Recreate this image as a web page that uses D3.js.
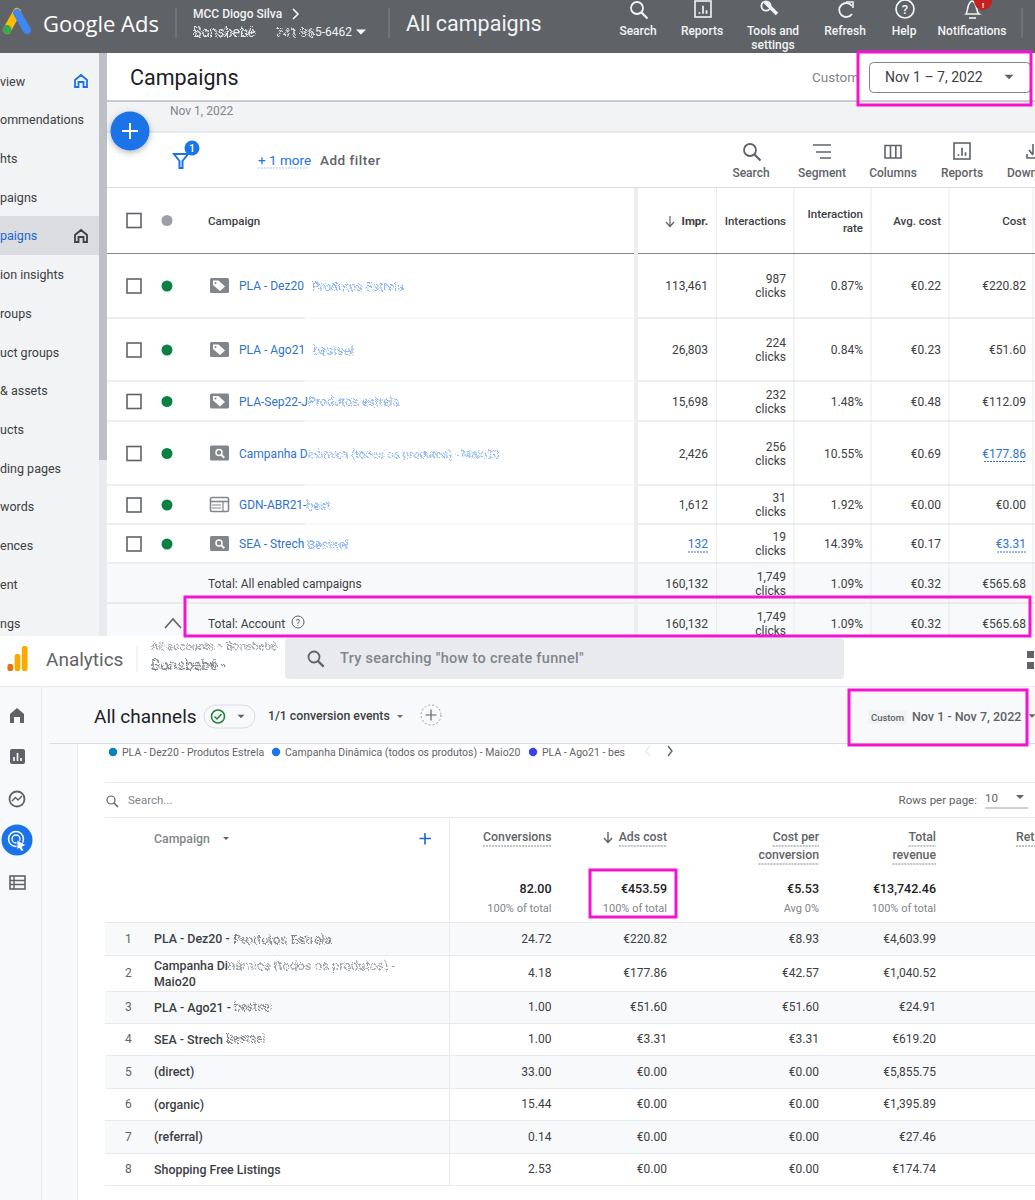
<!DOCTYPE html>
<html>
<head>
<meta charset="utf-8">
<title>Google Ads vs Analytics</title>
<script src="https://cdn.jsdelivr.net/npm/d3@7"></script>
<style>
  html, body { margin: 0; padding: 0; background: #fff; }
  svg { display: block; font-family: Roboto, sans-serif; }
</style>
</head>
<body>
<div id="chart"></div>
<script>
// Google Ads table
const adsCampaigns = ["PLA - Dez20", "PLA - Ago21", "PLA-Sep22-J", "Campanha D", "GDN-ABR21-", "SEA - Strech"];
const adsHidden = ["Produtos Estrela", "bestsel", "Produtos estrela", "inâmica (todos os produtos) - Maio20", "best", "Bestsel"];
const adsIcons = ["tag", "tag", "tag", "search", "display", "search"];
const adsImpr = [113461, 26803, 15698, 2426, 1612, 132];
const adsClicks = [987, 224, 232, 256, 31, 19];
const adsRate = [0.87, 0.84, 1.48, 10.55, 1.92, 14.39];
const adsAvgCost = [0.22, 0.23, 0.48, 0.69, 0.00, 0.17];
const adsCost = [220.82, 51.60, 112.09, 177.86, 0.00, 3.31];
const adsTotalLabels = ["Total: All enabled campaigns", "Total: Account"];
const adsTotals = [160132, 1749, 1.09, 0.32, 565.68];
const adsColumns = ["Impr.", "Interactions", "Interaction|rate", "Avg. cost", "Cost"];
const adsSidebar = ["view", "ommendations", "hts", "paigns", "paigns", "ion insights", "roups", "uct groups", "& assets", "ucts", "ding pages", "words", "ences", "ent", "ngs"];
const adsTools = ["Search", "Segment", "Columns", "Reports", "Down"];
const adsTopNav = ["Search", "Reports", "Tools and|settings", "Refresh", "Help", "Notifications"];

// Analytics table
const gaCampaigns = ["PLA - Dez20 -", "Campanha Di", "PLA - Ago21 -", "SEA - Strech", "(direct)", "(organic)", "(referral)", "Shopping Free Listings"];
const gaHidden = ["Produtos Estrela", "nâmica (todos os produtos) -", "bestsel", "Bestsel", "", "", "", ""];
const gaConversions = [24.72, 4.18, 1.00, 1.00, 33.00, 15.44, 0.14, 2.53];
const gaAdsCost = [220.82, 177.86, 51.60, 3.31, 0, 0, 0, 0];
const gaCostPerConv = [8.93, 42.57, 51.60, 3.31, 0, 0, 0, 0];
const gaRevenue = [4603.99, 1040.52, 24.91, 619.20, 5855.75, 1395.89, 27.46, 174.74];
const gaTotals = ["82.00", "€453.59", "€5.53", "€13,742.46"];
const gaTotalNotes = ["100% of total", "100% of total", "Avg 0%", "100% of total"];
const gaColumns = ["Conversions", "Ads cost", "Cost per|conversion", "Total|revenue"];
const gaLegend = ["PLA - Dez20 - Produtos Estrela", "Campanha Dinâmica (todos os produtos) - Maio20", "PLA - Ago21 - bes"];

const width = 1035, height = 1200;
const MAGENTA = "#f413d3", BLUE = "#1a73e8", LINK = "#2f73cf", TEXT = "#3c4043", GREY = "#5f6368", LINE = "#dadce0";

const euro = v => "€" + d3.format(",.2f")(v);
const num = d3.format(",");

const svg = d3.select("#chart").append("svg")
  .attr("width", width).attr("height", height).attr("viewBox", `0 0 ${width} ${height}`);

const defs = svg.append("defs");
// speckled look for the retouched parts of the screenshot
const smudge = defs.append("filter").attr("id", "smudge").attr("x", "-10%").attr("y", "-50%").attr("width", "120%").attr("height", "200%");
smudge.append("feTurbulence").attr("type", "fractalNoise").attr("baseFrequency", 0.7).attr("numOctaves", 2).attr("seed", 4).attr("result", "n");
smudge.append("feDisplacementMap").attr("in", "SourceGraphic").attr("in2", "n").attr("scale", 5).attr("result", "d");
smudge.append("feGaussianBlur").attr("in", "d").attr("stdDeviation", 0.55);
defs.append("clipPath").attr("id", "adsClip").append("rect").attr("width", width).attr("height", 636);
const shadow = defs.append("filter").attr("id", "fabShadow").attr("x", "-40%").attr("y", "-40%").attr("width", "180%").attr("height", "180%");
shadow.append("feDropShadow").attr("dx", 0).attr("dy", 2).attr("stdDeviation", 3).attr("flood-opacity", 0.3);

// small helpers
function txt(g, x, y, s, o = {}) {
  return g.append("text").attr("x", x).attr("y", y).attr("dominant-baseline", "central")
    .attr("text-anchor", o.anchor || "start").attr("font-size", o.size || 12)
    .attr("font-weight", o.weight || 400).attr("fill", o.fill || TEXT)
    .attr("letter-spacing", o.ls || null)
    .attr("font-family", o.family || null).attr("filter", o.filter || null).text(s);
}
function box(g, x, y, w, h, fill, o = {}) {
  return g.append("rect").attr("x", x).attr("y", y).attr("width", w).attr("height", h)
    .attr("fill", fill).attr("rx", o.rx || 0).attr("stroke", o.stroke || "none").attr("stroke-width", o.sw || 1);
}
function hline(g, x1, x2, y, stroke = LINE, sw = 1) {
  g.append("line").attr("x1", x1).attr("x2", x2).attr("y1", y).attr("y2", y).attr("stroke", stroke).attr("stroke-width", sw);
}
function vline(g, x, y1, y2, stroke = LINE, sw = 1) {
  g.append("line").attr("x1", x).attr("x2", x).attr("y1", y1).attr("y2", y2).attr("stroke", stroke).attr("stroke-width", sw);
}
function multiline(g, x, y, s, o = {}, gap = 14) {
  const parts = s.split("|");
  parts.forEach((p, i) => txt(g, x, y + (i - (parts.length - 1) / 2) * gap, p, o));
}
function searchIcon(g, x, y, r, stroke, sw = 2) {
  g.append("circle").attr("cx", x).attr("cy", y).attr("r", r).attr("fill", "none").attr("stroke", stroke).attr("stroke-width", sw);
  g.append("line").attr("x1", x + r * 0.7).attr("y1", y + r * 0.7).attr("x2", x + r * 1.75).attr("y2", y + r * 1.75)
    .attr("stroke", stroke).attr("stroke-width", sw + 0.4);
}
function reportIcon(g, x, y, s, stroke) {
  g.append("rect").attr("x", x - s / 2).attr("y", y - s / 2).attr("width", s).attr("height", s).attr("fill", "none")
    .attr("stroke", stroke).attr("stroke-width", 1.6);
  [[-0.22, 0.2], [0, -0.2], [0.22, 0.08]].forEach(([dx, top]) => {
    g.append("line").attr("x1", x + dx * s).attr("x2", x + dx * s).attr("y1", y + 0.3 * s).attr("y2", y + top * s)
      .attr("stroke", stroke).attr("stroke-width", 1.7);
  });
}
function caret(g, x, y, s, fill) {
  g.append("path").attr("d", d3.line()([[x - s, y - s / 2], [x + s, y - s / 2], [x, y + s / 2]]) + "Z").attr("fill", fill);
}

// ---------- Google Ads panel ----------
const ads = svg.append("g").attr("clip-path", "url(#adsClip)");

box(ads, 0, 53, 1035, 590, "#f1f3f4");
box(ads, 107, 53, 928, 48, "#fff");
hline(ads, 107, 1035, 101, "#9aa0a6", 1.2);
box(ads, 107, 132, 928, 510, "#fff");
hline(ads, 107, 1035, 132, LINE);
hline(ads, 107, 1035, 187.5, LINE);

// sidebar
const sideY = d3.scalePoint().domain(d3.range(adsSidebar.length)).range([81, 623]);
box(ads, 0, 216, 99, 39, "#dadce0");
box(ads, 99, 53, 8, 590, "#e8eaed");
box(ads, 99, 53, 8, 407, "#bdc1c6");
adsSidebar.forEach((s, i) => txt(ads, 0, sideY(i), s, { size: 12.5, fill: i === 4 ? "#1967d2" : TEXT }));
const homeIcon = (x, y, c) => ads.append("path")
  .attr("d", `M${x - 6},${y + 6}V${y - 1}L${x},${y - 6}L${x + 6},${y - 1}V${y + 6}H${x + 2.5}V${y + 1}H${x - 2.5}V${y + 6}Z`)
  .attr("fill", "none").attr("stroke", c).attr("stroke-width", 1.8);
homeIcon(81, 81, BLUE);
homeIcon(81, 236, TEXT);

// top bar
box(ads, 0, 0, 1035, 53, "#5f6368");
ads.append("path").attr("d", "M7,30 L17,12").attr("stroke", "#fbbc04").attr("stroke-width", 8).attr("stroke-linecap", "round");
ads.append("path").attr("d", "M17,13 L27,30").attr("stroke", "#4285f4").attr("stroke-width", 8).attr("stroke-linecap", "round");
ads.append("circle").attr("cx", 7).attr("cy", 29.5).attr("r", 4.4).attr("fill", "#34a853");
txt(ads, 43, 23, "Google Ads", { size: 22, fill: "#fff", family: "Open Sans, Roboto" });
vline(ads, 176, 8, 38, "#80868b");
txt(ads, 193, 14, "MCC Diogo Silva", { size: 12, fill: "#f1f3f4", weight: 500 });
ads.append("path").attr("d", "M293,9L298,14L293,19").attr("fill", "none").attr("stroke", "#fff").attr("stroke-width", 1.5);
txt(ads, 193, 32, "Bonsbebé", { size: 14, fill: "#e8eaed", filter: "url(#smudge)" });
txt(ads, 276, 32, "741-96", { size: 12.5, fill: "#e8eaed", filter: "url(#smudge)" });
txt(ads, 315, 32, "5-6462", { size: 12, fill: "#f1f3f4" });
caret(ads, 361, 32, 5, "#fff");
vline(ads, 389, 8, 38, "#80868b");
txt(ads, 406, 23, "All campaigns", { size: 21.5, fill: "#f1f3f4" });

const navX = [638, 702, 773, 845, 904, 972];
adsTopNav.forEach((s, i) => {
  const parts = s.split("|");
  parts.forEach((p, j) => txt(ads, navX[i], 31 + j * 14, p, { size: 12, fill: "#f1f3f4", weight: 500, anchor: "middle" }));
});
searchIcon(ads, 637, 8, 6, "#f1f3f4", 1.8);
reportIcon(ads, 703, 9, 16, "#f1f3f4");
ads.append("path").attr("d", "M765,2L777,14").attr("stroke", "#f1f3f4").attr("stroke-width", 3.6);
ads.append("circle").attr("cx", 766).attr("cy", 6).attr("r", 4.6).attr("fill", "none").attr("stroke", "#f1f3f4").attr("stroke-width", 1.8);
ads.append("path").attr("d", "M852,6A7,7 0 1 0 852,14").attr("fill", "none").attr("stroke", "#f1f3f4").attr("stroke-width", 1.8);
ads.append("path").attr("d", "M846,2H853V8").attr("fill", "none").attr("stroke", "#f1f3f4").attr("stroke-width", 1.6);
ads.append("circle").attr("cx", 905).attr("cy", 9).attr("r", 9).attr("fill", "none").attr("stroke", "#f1f3f4").attr("stroke-width", 1.7);
txt(ads, 905, 9.5, "?", { size: 13, fill: "#f1f3f4", anchor: "middle", weight: 500 });
ads.append("path").attr("d", "M966,14C968,12 967,2 972,1C977,2 976,12 979,14Z").attr("fill", "none").attr("stroke", "#f1f3f4").attr("stroke-width", 1.6);
ads.append("path").attr("d", "M969,18H976").attr("stroke", "#f1f3f4").attr("stroke-width", 1.6);
ads.append("circle").attr("cx", 983).attr("cy", 1).attr("r", 9).attr("fill", "#c5221f");
txt(ads, 983, 5, "!", { size: 8, fill: "#fff", anchor: "middle", weight: 700 });
vline(ads, 1022, 8, 38, "#80868b");

// page title and date filter
txt(ads, 130, 77, "Campaigns", { size: 21.5, fill: "#202124" });
txt(ads, 812, 77, "Custom", { size: 13.5, fill: "#80868b" });
box(ads, 869.5, 62.5, 161, 30, "#fff", { rx: 4, stroke: "#80868b" });
txt(ads, 885, 77, "Nov 1 – 7, 2022", { size: 14, fill: TEXT });
caret(ads, 1009, 77, 4.5, GREY);
txt(ads, 170, 111, "Nov 1, 2022", { size: 12, fill: "#80868b" });

// floating add button
ads.append("circle").attr("cx", 130).attr("cy", 131).attr("r", 19.5).attr("fill", BLUE).attr("filter", "url(#fabShadow)");
ads.append("path").attr("d", "M130,123V139M122,131H138").attr("stroke", "#fff").attr("stroke-width", 2);

// filter row
ads.append("path").attr("d", "M174,154H188L182.5,161V168H179.5V161Z").attr("fill", "none").attr("stroke", BLUE).attr("stroke-width", 2);
ads.append("circle").attr("cx", 192).attr("cy", 148).attr("r", 7.5).attr("fill", BLUE);
txt(ads, 192, 148.5, "1", { size: 10.5, fill: "#fff", anchor: "middle", weight: 500 });
txt(ads, 258, 160, "+ 1 more", { size: 13.5, fill: "#1a73e8" });
ads.append("line").attr("x1", 258).attr("x2", 308).attr("y1", 168).attr("y2", 168).attr("stroke", "#a8c7fa").attr("stroke-dasharray", "2 1");
txt(ads, 320, 160, "Add filter", { size: 13.5, fill: GREY, weight: 500, ls: 0.5 });

const toolX = [751, 822, 893, 962, 1007];
adsTools.forEach((s, i) => txt(ads, toolX[i], 173, s, { size: 12, fill: GREY, anchor: i === 4 ? "start" : "middle", weight: 500 }));
searchIcon(ads, 750, 150, 6, GREY, 1.8);
ads.append("path").attr("d", "M813,145H831M816,152H831M820,158H831").attr("stroke", GREY).attr("stroke-width", 1.6);
ads.append("path").attr("d", "M885,145.5H901V158H885ZM890.5,145.5V158M895.8,145.5V158").attr("fill", "none").attr("stroke", GREY).attr("stroke-width", 1.6);
reportIcon(ads, 962, 151, 16, GREY);
ads.append("path").attr("d", "M1027,154V158H1035M1033,144V154M1029,150L1033,155").attr("fill", "none").attr("stroke", GREY).attr("stroke-width", 1.6);

// table: rows have their own heights, so the band edges go through ordinal scales
const adsRowEdges = [253, 318, 381, 421, 485, 524, 563, 603, 643];
const adsRowTop = d3.scaleOrdinal().domain(d3.range(8)).range(adsRowEdges.slice(0, 8));
const adsRowBottom = d3.scaleOrdinal().domain(d3.range(8)).range(adsRowEdges.slice(1));
const adsRowMid = i => (i === 0 ? 286 : i === 1 ? 350 : (adsRowTop(i) + adsRowBottom(i)) / 2 + 0.5);

box(ads, 107, 564, 928, 80, "#f8f9fa");
const colRight = d3.scaleOrdinal().domain(d3.range(5)).range([708, 786, 863, 941, 1026]);
[716.5, 794, 871, 949, 1033].forEach(x => vline(ads, x, 188, 643, "#e8eaed"));
hline(ads, 107, 1035, 253.5, "#80868b", 1.2);
adsRowEdges.slice(1, 8).forEach((y, i) => {
  if (i < 5) {
    // the retouching left these lines fainter in the middle
    hline(ads, 107, 305, y, LINE);
    hline(ads, 305, 634, y, "#eef0f2");
    hline(ads, 634, 1035, y, LINE);
  } else {
    hline(ads, 107, 1035, y, LINE);
  }
});
box(ads, 634, 188, 4, 455, "#eceef0");

// header
ads.append("rect").attr("x", 127).attr("y", 213.5).attr("width", 14).attr("height", 14).attr("fill", "none").attr("stroke", GREY).attr("stroke-width", 1.6);
ads.append("circle").attr("cx", 167).attr("cy", 220.5).attr("r", 5.5).attr("fill", "#9aa0a6");
txt(ads, 208, 221, "Campaign", { size: 11.5, fill: TEXT, weight: 500 });
adsColumns.forEach((c, i) => {
  multiline(ads, colRight(i), 221, c, { size: 11.5, anchor: "end", weight: i === 0 ? 700 : 500, fill: TEXT });
});
ads.append("path").attr("d", "M670,216V226M666,222L670,226.5L674,222").attr("fill", "none").attr("stroke", GREY).attr("stroke-width", 1.2);

// rows
adsCampaigns.forEach((name, i) => {
  const y = adsRowMid(i);
  ads.append("rect").attr("x", 127).attr("y", y - 7).attr("width", 14).attr("height", 14).attr("fill", "none").attr("stroke", GREY).attr("stroke-width", 1.6);
  ads.append("circle").attr("cx", 167).attr("cy", y).attr("r", 5.5).attr("fill", "#0b8043");
  if (adsIcons[i] === "tag") {
    box(ads, 210, y - 8, 19, 15, "#80868b", { rx: 1.5 });
    ads.append("path").attr("d", `M213,${y - 5.5}H218.5L225,${y + 0.5}L220,${y + 5}L213,${y - 1}Z`).attr("fill", "#fff");
    ads.append("circle").attr("cx", 215.5).attr("cy", y - 3).attr("r", 1).attr("fill", "#80868b");
  } else if (adsIcons[i] === "search") {
    box(ads, 210, y - 8, 19, 15, "#80868b", { rx: 1.5 });
    searchIcon(ads, 219, y - 1, 3, "#fff", 1.5);
  } else {
    box(ads, 210.5, y - 7.5, 18, 14, "#fff", { rx: 1.5, stroke: "#80868b", sw: 1.6 });
    ads.append("path").attr("d", `M210.5,${y - 3.5}H228.5`).attr("stroke", "#80868b").attr("stroke-width", 1.6);
    ads.append("path").attr("d", `M212,${y + 0}H221M223,${y - 3}V${y + 6}M212,${y + 3}H221`).attr("stroke", "#80868b").attr("stroke-width", 1.2);
  }
  const label = txt(ads, 239, y, name, { size: 12, fill: LINK });
  const w = label.node().getComputedTextLength();
  const gap = i < 2 ? 8 : i === 5 ? 3 : 0;
  txt(ads, 239 + w + gap, y, adsHidden[i], { size: i === 3 ? 11.5 : 12.5, fill: "#8fb6f0", filter: "url(#smudge)" });

  const linked = i === 5;
  txt(ads, colRight(0), y, num(adsImpr[i]), { anchor: "end", fill: linked ? LINK : TEXT });
  txt(ads, colRight(1), y - 7, num(adsClicks[i]), { anchor: "end" });
  txt(ads, colRight(1), y + 7, "clicks", { anchor: "end" });
  txt(ads, colRight(2), y, d3.format(".2f")(adsRate[i]) + "%", { anchor: "end" });
  txt(ads, colRight(3), y, euro(adsAvgCost[i]), { anchor: "end" });
  const costLinked = i === 3 || i === 5;
  txt(ads, colRight(4), y, euro(adsCost[i]), { anchor: "end", fill: costLinked ? LINK : TEXT });
  if (costLinked) {
    ads.append("line").attr("x1", i === 3 ? 984 : 997).attr("x2", 1026).attr("y1", y + 8).attr("y2", y + 8).attr("stroke", LINK).attr("stroke-dasharray", "2 1");
  }
  if (linked) {
    ads.append("line").attr("x1", 688).attr("x2", 708).attr("y1", y + 8).attr("y2", y + 8).attr("stroke", LINK).attr("stroke-dasharray", "2 1");
  }
});

// totals
adsTotalLabels.forEach((label, k) => {
  const y = k === 0 ? 584 : 624;
  txt(ads, 208, y, label, { size: 12, fill: TEXT });
  txt(ads, colRight(0), y, num(adsTotals[0]), { anchor: "end" });
  txt(ads, colRight(1), y - 7, num(adsTotals[1]), { anchor: "end" });
  txt(ads, colRight(1), y + 7, "clicks", { anchor: "end" });
  txt(ads, colRight(2), y, adsTotals[2] + "%", { anchor: "end" });
  txt(ads, colRight(3), y, euro(adsTotals[3]), { anchor: "end" });
  txt(ads, colRight(4), y, euro(adsTotals[4]), { anchor: "end" });
});
ads.append("circle").attr("cx", 298).attr("cy", 622).attr("r", 6).attr("fill", "none").attr("stroke", GREY);
txt(ads, 298, 622.5, "?", { size: 9, fill: GREY, anchor: "middle" });
ads.append("path").attr("d", "M165,628L173,619L181,628").attr("fill", "none").attr("stroke", GREY).attr("stroke-width", 1.6);

// ---------- Analytics panel ----------
const ga = svg.append("g");
box(ga, 0, 637, 1035, 563, "#fff");

// logo
const logoX = d3.scaleBand().domain([0, 1, 2]).range([6, 29]).padding(0.2);
[[7, "#e8710a"], [17, "#f9ab00"], [25, "#f9ab00"]].forEach(([h, c], i) => {
  box(ga, logoX(i), 671 - h, logoX.bandwidth(), h, c, { rx: 2 });
});
txt(ga, 46, 659, "Analytics", { size: 19, fill: GREY });
vline(ga, 137, 645, 672, "#e8eaed");
txt(ga, 151, 646, "All accounts > Bonsbebé", { size: 11.5, fill: "#9aa0a6", filter: "url(#smudge)" });
txt(ga, 151, 665, "Bonsbebé -", { size: 15, fill: "#80868b", filter: "url(#smudge)" });
box(ga, 285, 638, 559, 41, "#e8eaed", { rx: 4 });
searchIcon(ga, 314, 657, 5.5, GREY, 1.8);
txt(ga, 340, 658, "Try searching \"how to create funnel\"", { size: 14.5, fill: "#80868b", weight: 500, ls: 0.3 });
box(ga, 1027, 651, 7, 7, GREY);
box(ga, 1027, 662, 7, 7, GREY);

// left rail
box(ga, 0, 687, 42, 513, "#f8f9fa");
box(ga, 42, 687, 993, 56, "#f8f9fa");
box(ga, 42, 743, 35, 457, "#f8f9fa");
hline(ga, 0, 1035, 686.5, "#e8eaed");
vline(ga, 41.5, 687, 1200, "#e8eaed");
vline(ga, 77.5, 743, 1200, "#e8eaed");
hline(ga, 50, 1035, 743.5, LINE, 1.2);

ga.append("path").attr("d", "M10,723V714L17,708L24,714V723H20V717H14V723Z").attr("fill", GREY);
box(ga, 10, 749, 15, 15, GREY, { rx: 2 });
[[14, 761, 757], [17.5, 761, 753], [21, 761, 758]].forEach(([x, y1, y2]) => vline(ga, x, y1, y2, "#fff", 1.6));
ga.append("circle").attr("cx", 17).attr("cy", 799).attr("r", 7.5).attr("fill", "none").attr("stroke", GREY).attr("stroke-width", 1.8);
ga.append("path").attr("d", "M12,801L15.5,797.5L18,800L22,796").attr("fill", "none").attr("stroke", GREY).attr("stroke-width", 1.5);
ga.append("circle").attr("cx", 17).attr("cy", 840).attr("r", 15.5).attr("fill", BLUE);
ga.append("circle").attr("cx", 16).attr("cy", 839).attr("r", 7.5).attr("fill", "none").attr("stroke", "#fff").attr("stroke-width", 1.5);
ga.append("circle").attr("cx", 16).attr("cy", 839).attr("r", 4).attr("fill", "none").attr("stroke", "#fff").attr("stroke-width", 1.3);
ga.append("path").attr("d", "M17,840L26,845L22,847L24,851L21,851L19,848L17,850Z").attr("fill", "#fff").attr("stroke", BLUE).attr("stroke-width", 0.8);
box(ga, 10, 876, 15, 13, "none", { stroke: GREY, sw: 1.6 });
ga.append("path").attr("d", "M10,880.5H25M10,884.5H25M14,876V889").attr("stroke", GREY).attr("stroke-width", 1.4);

// report title row
txt(ga, 94, 716.5, "All channels", { size: 19, fill: "#202124" });
box(ga, 204, 705, 51, 23, "#f8f9fa", { rx: 11.5, stroke: LINE });
ga.append("circle").attr("cx", 218).attr("cy", 716.5).attr("r", 6.5).attr("fill", "none").attr("stroke", "#188038").attr("stroke-width", 1.5);
ga.append("path").attr("d", "M214.5,716.5L217,719L221.5,714").attr("fill", "none").attr("stroke", "#188038").attr("stroke-width", 1.4);
caret(ga, 241, 716.5, 3.5, GREY);
txt(ga, 268, 716, "1/1 conversion events", { size: 12.3, fill: TEXT, weight: 500 });
caret(ga, 400, 716.5, 3, GREY);
ga.append("circle").attr("cx", 431).attr("cy", 715).attr("r", 10).attr("fill", "none").attr("stroke", "#9aa0a6").attr("stroke-dasharray", "2 2");
ga.append("path").attr("d", "M431,709.5V720.5M425.5,715H436.5").attr("stroke", GREY).attr("stroke-width", 1.2);
box(ga, 868, 710, 39, 14, "#f1f3f4", { rx: 2 });
txt(ga, 887.5, 717, "Custom", { size: 9.5, fill: GREY, anchor: "middle", weight: 500 });
txt(ga, 912, 716.5, "Nov 1 - Nov 7, 2022", { size: 12.5, fill: GREY, weight: 500 });
caret(ga, 1032, 716, 3.5, GREY);

// legend
const legendDots = ["#0b7fb8", "#1a73e8", "#3f41e8"];
const legendX = d3.scaleOrdinal().domain(d3.range(3)).range([113, 276, 533]);
gaLegend.forEach((s, i) => {
  ga.append("circle").attr("cx", legendX(i)).attr("cy", 752).attr("r", 4.2).attr("fill", legendDots[i]);
  txt(ga, legendX(i) + 9, 752, s, { size: 10.5, fill: GREY });
});
ga.append("path").attr("d", "M650,746L646,751L650,756").attr("fill", "none").attr("stroke", "#e8eaed").attr("stroke-width", 1.4);
ga.append("path").attr("d", "M668,746L672,751L668,756").attr("fill", "none").attr("stroke", GREY).attr("stroke-width", 1.4);

// search row
hline(ga, 105, 1035, 782.5, "#e8eaed");
searchIcon(ga, 111, 800, 4, GREY, 1.2);
txt(ga, 128, 800, "Search...", { size: 11.5, fill: "#80868b" });
txt(ga, 977, 799.5, "Rows per page:", { size: 11.5, fill: GREY, anchor: "end" });
txt(ga, 985, 798, "10", { size: 11.5, fill: GREY });
caret(ga, 1020, 797, 4, GREY);
hline(ga, 985, 1028, 808, "#9aa0a6");
hline(ga, 105, 1035, 817.5, "#e8eaed");

// table
const gaRowEdges = [922, 955, 991, 1023, 1055, 1088, 1120, 1153, 1185];
const gaColRight = d3.scaleOrdinal().domain(d3.range(4)).range([551.5, 667, 819, 936]);
const gaRowTop = i => gaRowEdges[i];
const gaRowMid = i => (gaRowEdges[i] + gaRowEdges[i + 1]) / 2;

gaCampaigns.forEach((_, i) => {
  if (i % 2 === 0) box(ga, 105, gaRowTop(i), 930, gaRowEdges[i + 1] - gaRowEdges[i], "#f8f9fa");
});
gaRowEdges.forEach(y => hline(ga, 105, 1035, y + 0.5, "#e8eaed"));
vline(ga, 449.5, 817, 1185, "#e8eaed");

txt(ga, 154, 838.5, "Campaign", { size: 12.3, fill: "#80868b", weight: 500 });
caret(ga, 226, 838.5, 3, GREY);
ga.append("path").attr("d", "M425,833V844.5M419.5,838.5H431").attr("stroke", "#1967d2").attr("stroke-width", 1.6);

gaColumns.forEach((c, i) => {
  c.split("|").forEach((p, j) => {
    const y = 837 + j * 18;
    const t = txt(ga, gaColRight(i), y, p, { size: 12.3, fill: GREY, weight: 500, anchor: "end" });
    const w = t.node().getComputedTextLength();
    ga.append("line").attr("x1", gaColRight(i) - w).attr("x2", gaColRight(i)).attr("y1", y + 9).attr("y2", y + 9)
      .attr("stroke", "#80868b").attr("stroke-dasharray", "2 1");
  });
  txt(ga, gaColRight(i), 888.5, gaTotals[i], { size: 12.5, fill: "#202124", weight: 500, anchor: "end" });
  txt(ga, gaColRight(i), 908, gaTotalNotes[i], { size: 11, fill: "#80868b", anchor: "end" });
});
ga.append("path").attr("d", "M608,832V842M604,838L608,842.5L612,838").attr("fill", "none").attr("stroke", GREY).attr("stroke-width", 1.4);
txt(ga, 1016, 837, "Ret", { size: 12.3, fill: GREY, weight: 500 });
ga.append("line").attr("x1", 1016).attr("x2", 1035).attr("y1", 846).attr("y2", 846).attr("stroke", "#80868b").attr("stroke-dasharray", "2 1");

gaCampaigns.forEach((name, i) => {
  const y = gaRowMid(i);
  txt(ga, 125, y, i + 1, { size: 12, fill: GREY });
  const opts = { size: 12.4, fill: TEXT, weight: 500 };
  if (i === 1) {
    const t = txt(ga, 154, y - 8, name, opts);
    txt(ga, 154 + t.node().getComputedTextLength(), y - 8, gaHidden[i], { size: 13, fill: "#9aa0a6", filter: "url(#smudge)" });
    txt(ga, 154, y + 8, "Maio20", opts);
  } else {
    const t = txt(ga, 154, y, name, opts);
    if (gaHidden[i]) txt(ga, 154 + t.node().getComputedTextLength() + 3, y, gaHidden[i], { size: i === 0 ? 13.5 : 12, fill: "#80868b", filter: "url(#smudge)" });
  }
  txt(ga, gaColRight(0), y, d3.format(".2f")(gaConversions[i]), { anchor: "end", size: 12 });
  txt(ga, gaColRight(1), y, euro(gaAdsCost[i]), { anchor: "end", size: 12 });
  txt(ga, gaColRight(2), y, euro(gaCostPerConv[i]), { anchor: "end", size: 12 });
  txt(ga, gaColRight(3), y, euro(gaRevenue[i]), { anchor: "end", size: 12 });
});

// ---------- Highlight boxes ----------
const marks = svg.append("g").attr("fill", "none").attr("stroke", MAGENTA).attr("stroke-width", 3);
[[858, 52, 173, 53], [185, 597, 845, 39], [849, 690, 178, 55], [590, 870, 86, 47]].forEach(([x, y, w, h]) => {
  marks.append("rect").attr("x", x).attr("y", y).attr("width", w).attr("height", h);
});
</script>
</body>
</html>
